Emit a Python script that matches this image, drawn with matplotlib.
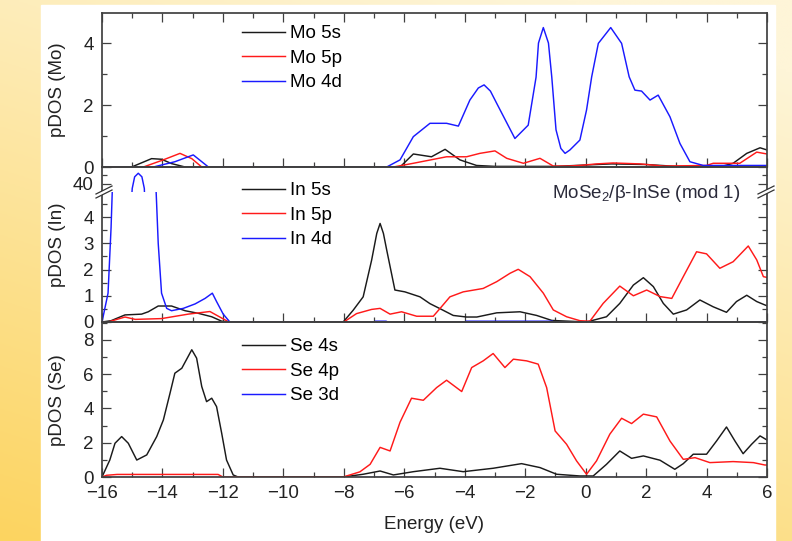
import numpy as np
import matplotlib
matplotlib.use('Agg')
import matplotlib.pyplot as plt
from matplotlib.patches import Rectangle, Polygon
from matplotlib.lines import Line2D
from matplotlib.ticker import MultipleLocator, FixedLocator

plt.rcParams['font.family'] = ['Liberation Sans', 'DejaVu Sans']
plt.rcParams['mathtext.default'] = 'regular'

# ---- data (energy in eV, pDOS) ----
mo5s_e = [-16, -15.02, -14.36, -14.03, -13.7, -13.25, -8.0, -6.14, -5.7, -5.1, -4.65, -4.16, -3.61,
          -3.0, -1.0, 0.36, 0.86, 2.0, 3.0, 4.5, 4.88, 5.33, 5.77, 6.0]
mo5s_y = [0, 0, 0.27, 0.25, 0.11, 0, 0, 0, 0.42, 0.33, 0.57, 0.23, 0.05,
          0.02, 0.02, 0.08, 0.1, 0.08, 0.02, 0.02, 0.12, 0.44, 0.62, 0.55]

mo5p_e = [-16, -14.63, -14.0, -13.42, -13.03, -12.7, -8.0, -6.36, -5.7, -4.6, -3.94, -3.5, -3.0,
          -2.61, -2.06, -1.51, -1.07, -0.6, -0.19, 0.36, 0.91, 1.8, 2.57, 4.0, 4.22, 5.1, 5.66, 6.0]
mo5p_y = [0, 0, 0.22, 0.44, 0.27, 0, 0, 0, 0.12, 0.33, 0.33, 0.44, 0.52,
          0.28, 0.12, 0.28, 0.03, 0.03, 0.05, 0.1, 0.13, 0.1, 0.03, 0.05, 0.12, 0.12, 0.48, 0.42]

mo4d_e = [-16, -14.3, -13.59, -12.98, -12.48, -8.0, -6.58, -6.14, -5.7, -5.15, -4.6, -4.21, -3.83,
          -3.55, -3.36, -3.15, -2.94, -2.34, -1.9, -1.64, -1.56, -1.4, -1.23, -1.12, -0.98, -0.82,
          -0.68, -0.52, -0.19, 0.03, 0.2, 0.42, 0.83, 1.19, 1.44, 1.63, 1.85, 2.13, 2.4, 2.79,
          3.12, 3.45, 3.89, 6.0]
mo4d_y = [0, 0, 0.17, 0.39, 0, 0, 0, 0.23, 0.98, 1.41, 1.41, 1.32, 2.16,
          2.55, 2.65, 2.45, 2.05, 0.92, 1.35, 2.9, 4.0, 4.5, 4.0, 2.9, 1.2, 0.6,
          0.44, 0.55, 0.87, 1.84, 2.91, 3.99, 4.5, 3.99, 2.91, 2.48, 2.45, 2.16, 2.32, 1.62,
          0.76, 0.17, 0.05, 0.05]

in5s_e = [-16, -15.7, -15.24, -14.69, -14.47, -14.14, -13.7, -13.25, -12.81, -12.37, -12.04, -11.8,
          -8.02, -7.69, -7.36, -7.08, -6.91, -6.8, -6.69, -6.58, -6.31, -5.98, -5.48, -5.15, -4.82,
          -4.38, -3.94, -3.6, -2.94, -2.17, -1.62, -1.12, 0.03, 0.69, 1.13, 1.58, 1.91, 2.24, 2.57,
          2.9, 3.34, 3.78, 4.22, 4.66, 4.99, 5.33, 5.66, 5.93, 6.0]
in5s_y = [0, 0.05, 0.27, 0.3, 0.39, 0.61, 0.61, 0.43, 0.33, 0.2, 0.03, 0,
          0, 0.45, 0.96, 2.36, 3.38, 3.76, 3.38, 2.74, 1.22, 1.15, 0.96, 0.7, 0.51,
          0.25, 0.19, 0.19, 0.35, 0.39, 0.25, 0.06, 0, 0.2, 0.71, 1.41, 1.69, 1.35, 0.71,
          0.3, 0.46, 0.84, 0.58, 0.37, 0.78, 1.02, 0.78, 0.65, 0.62]

in5p_e = [-16, -15.8, -15.24, -14.9, -14.03, -13.15, -12.43, -12.04, -11.8, -8.0, -7.58, -7.08,
          -6.8, -6.47, -6.09, -5.59, -5.04, -4.77, -4.49, -4.05, -3.39, -2.94, -2.5, -2.23, -1.84,
          -1.4, -1.07, -0.63, -0.19, 0.14, 0.58, 1.13, 1.58, 2.02, 2.46, 2.85, 3.23, 3.67, 4.0,
          4.44, 4.88, 5.38, 5.66, 5.88, 6.0]
in5p_y = [0, 0, 0.19, 0.1, 0.13, 0.3, 0.4, 0.15, 0, 0, 0.32, 0.48,
          0.52, 0.3, 0.39, 0.22, 0.22, 0.58, 0.96, 1.15, 1.28, 1.54, 1.86, 2.01, 1.73,
          1.1, 0.46, 0.2, 0.05, 0.03, 0.71, 1.37, 1.0, 1.22, 0.97, 0.9, 1.73, 2.68, 2.6,
          2.05, 2.3, 2.9, 2.37, 1.73, 1.7]

in4d_e = [-16, -15.8, -15.7, -15.66, -15.0, -14.92, -14.8, -14.68, -14.6, -14.21, -14.14, -14.03,
          -13.86, -13.7, -13.31, -12.92, -12.59, -12.35, -12.21, -11.99, -11.77, -8.0, -7.0,
          -6.95, -6.6, -6.55, -4.0, -3.95, -1.1, -1.05, 6.0]
in4d_y = [0, 1.1, 3.6, 5.0, 39.5, 40.8, 41.2, 40.8, 39.5, 5.0, 3.0, 1.1,
          0.52, 0.43, 0.52, 0.69, 0.9, 1.1, 0.78, 0.3, 0, 0, 0,
          0.03, 0.03, 0, 0, 0.03, 0.03, 0, 0]

se4s_e = [-16, -15.74, -15.57, -15.35, -15.13, -14.85, -14.52, -14.19, -13.97, -13.75, -13.59,
          -13.36, -13.03, -12.87, -12.7, -12.54, -12.37, -12.21, -12.04, -11.88, -11.66, -11.5,
          -8.02, -7.36, -6.8, -6.36, -5.7, -4.82, -4.05, -3.06, -2.12, -1.51, -0.96, -0.19, 0.25,
          0.69, 1.13, 1.52, 1.91, 2.46, 2.95, 3.23, 3.56, 4.0, 4.33, 4.66, 4.94, 5.21, 5.49, 5.77, 6.0]
se4s_y = [0, 1.0, 1.97, 2.36, 1.97, 0.99, 1.29, 2.36, 3.33, 4.89, 6.06,
          6.35, 7.43, 6.94, 5.28, 4.4, 4.6, 4.11, 2.55, 0.99, 0.12, 0,
          0, 0.16, 0.35, 0.12, 0.31, 0.51, 0.31, 0.51, 0.78, 0.55, 0.16, 0.06, 0.06,
          0.74, 1.52, 1.09, 1.23, 0.98, 0.45, 0.78, 1.33, 1.33, 2.1, 2.92, 2.1, 1.36, 1.91, 2.4, 2.16]

se4p_e = [-16, -15.85, -15.5, -13.0, -12.16, -12.0, -8.02, -7.47, -7.13, -6.8, -6.47, -6.14, -5.76,
          -5.37, -4.93, -4.6, -4.1, -3.77, -3.39, -3.06, -2.67, -2.39, -1.95, -1.57, -1.29, -1.01,
          -0.63, -0.3, 0.03, 0.36, 0.8, 1.19, 1.52, 1.91, 2.35, 2.79, 3.23, 3.62, 4.11, 4.88, 5.55,
          5.93, 6.0]
se4p_y = [0, 0.1, 0.15, 0.15, 0.15, 0, 0, 0.3, 0.74, 1.73, 1.52, 3.2, 4.6,
          4.48, 5.22, 5.65, 4.99, 6.39, 6.78, 7.21, 6.39, 6.88, 6.78, 6.59, 5.22, 2.69,
          1.91, 0.94, 0.16, 0.94, 2.5, 3.43, 3.12, 3.67, 3.51, 2.1, 1.03, 1.13, 0.84, 0.9, 0.84,
          0.7, 0.7]

se3d_e = [-16, 6]
se3d_y = [0, 0]

c_s, c_p, c_d = '#1a1a1a', '#ff1a1a', '#1a1aff'
lw = 1.05
tick_col = '#404040'
fs = 13.5

fig = plt.figure(figsize=(7.92, 5.41), dpi=100)

# background: yellow gradient with white panel
bg = fig.add_axes([0, 0, 1, 1], zorder=-10)
yy, xx = np.mgrid[0:1:200j, 0:1:200j]
t = np.clip(0.75 * yy + 0.35 * (1 - xx) - 0.1, 0, 1)[..., None]
top = np.array([254, 245, 216]) / 255
bot = np.array([252, 212, 96]) / 255
bg.imshow(top * (1 - t) + bot * t, aspect='auto', extent=[0, 1, 0, 1], origin='upper')
bg.add_patch(Rectangle((41 / 792, 0), (775 - 41) / 792, (541 - 5) / 541, color='white'))
bg.set_xlim(0, 1)
bg.set_ylim(0, 1)
bg.axis('off')

L, W = 102 / 792, 665 / 792
def box(t_px, b_px):
    return [L, (541 - b_px) / 541, W, (b_px - t_px) / 541]

ax1 = fig.add_axes(box(13, 167))
ax2u = fig.add_axes(box(167, 192))
ax2 = fig.add_axes(box(192, 322))
ax3 = fig.add_axes(box(322, 477))

def style(ax, top_ticks=False):
    ax.set_xlim(-16, 6)
    ax.xaxis.set_major_locator(MultipleLocator(2))
    ax.xaxis.set_minor_locator(MultipleLocator(1))
    ax.tick_params(which='both', direction='in', right=True, top=top_ticks,
                   color=tick_col, labelsize=fs, labelcolor='#222222', pad=6)
    ax.tick_params(which='major', length=6.5, width=0.9)
    ax.tick_params(which='minor', length=3.5, width=0.9)
    for s in ax.spines.values():
        s.set_color(tick_col)
        s.set_linewidth(1.25)
    ax.set_facecolor('none')

for ax in (ax1, ax2u, ax2, ax3):
    style(ax, top_ticks=(ax is ax1))

# Mo
h1 = ax1.plot(mo5s_e, mo5s_y, color=c_s, lw=lw, label='Mo 5s')
h1 += ax1.plot(mo5p_e, mo5p_y, color=c_p, lw=lw, label='Mo 5p')
h1 += ax1.plot(mo4d_e, mo4d_y, color=c_d, lw=lw, label='Mo 4d')
ax1.set_ylim(0, 4.97)
ax1.yaxis.set_major_locator(MultipleLocator(2))
ax1.yaxis.set_minor_locator(MultipleLocator(1))
ax1.tick_params(labelbottom=False)

# In (broken axis)
h2 = []
for ax in (ax2u, ax2):
    h = ax.plot(in5s_e, in5s_y, color=c_s, lw=lw, label='In 5s')
    h += ax.plot(in5p_e, in5p_y, color=c_p, lw=lw, label='In 5p')
    h += ax.plot(in4d_e, in4d_y, color=c_d, lw=lw, label='In 4d')
    h2 = h
ax2.set_ylim(0, 4.96)
ax2.yaxis.set_major_locator(MultipleLocator(1))
ax2.yaxis.set_minor_locator(MultipleLocator(0.5))
ax2.spines['top'].set_visible(False)
ax2.tick_params(labelbottom=False)
ax2u.set_ylim(39.1, 41.9)
ax2u.yaxis.set_major_locator(FixedLocator([40]))
ax2u.yaxis.set_minor_locator(FixedLocator([41]))
ax2u.spines['bottom'].set_visible(False)
ax2u.tick_params(which='both', bottom=False, labelbottom=False)

# Se
h3 = ax3.plot(se4s_e, se4s_y, color=c_s, lw=lw, label='Se 4s')
h3 += ax3.plot(se4p_e, se4p_y, color=c_p, lw=lw, label='Se 4p')
h3 += ax3.plot(se3d_e, se3d_y, color=c_d, lw=lw, label='Se 3d', zorder=1)
ax3.set_ylim(0, 9.05)
ax3.yaxis.set_major_locator(MultipleLocator(2))
ax3.yaxis.set_minor_locator(MultipleLocator(1))
ax3.set_xlabel('Energy (eV)', fontsize=fs, color='#222222', labelpad=10)

# axis-break marks
for x0 in (96, 758):
    fig.add_artist(Polygon([((x0) / 792, 1 - 194 / 541), ((x0 + 16) / 792, 1 - 186 / 541),
                            ((x0 + 16) / 792, 1 - 190 / 541), ((x0) / 792, 1 - 198 / 541)],
                           closed=True, facecolor='white', edgecolor='none'))
    for dy in (0, 4):
        fig.add_artist(Line2D([x0 / 792, (x0 + 16) / 792],
                              [1 - (194 + dy) / 541, 1 - (186 + dy) / 541],
                              color='#333333', lw=0.9))

for h, ytop in ((h1, 25), (h2, 182), (h3, 338)):
    fig.legend(handles=h, loc='upper left', bbox_to_anchor=(242 / 792, 1 - ytop / 541),
               frameon=False, borderpad=0, borderaxespad=0, handlelength=2.3,
               handletextpad=0.25, labelspacing=0.4, fontsize=fs)

for label, yc in (('pDOS (Mo)', 90), ('pDOS (In)', 245), ('pDOS (Se)', 400)):
    fig.text(57 / 792, 1 - yc / 541, label, rotation=90, ha='center', va='center',
             fontsize=fs, color='#222222')

fig.text(740 / 792, 1 - 193 / 541, r'MoSe$_2$/β-InSe (mod 1)', ha='right', va='center',
         fontsize=fs, color='#2a2a3a')

fig.savefig('out.png', dpi=100)
